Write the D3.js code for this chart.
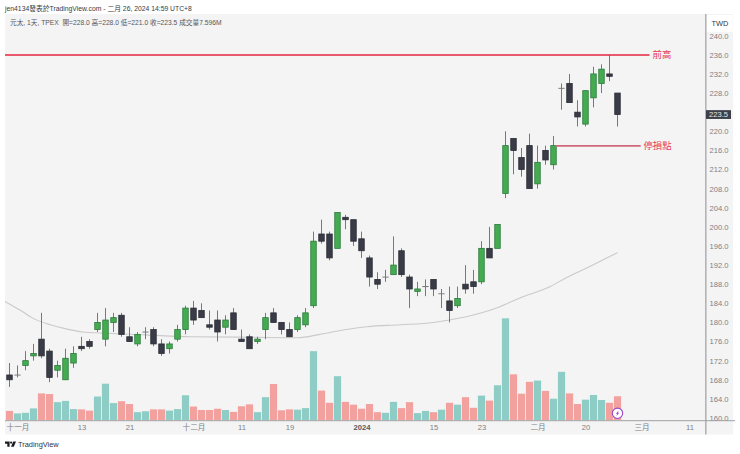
<!DOCTYPE html>
<html>
<head>
<meta charset="utf-8">
<script src="https://cdn.jsdelivr.net/npm/d3@7/dist/d3.min.js"></script>
<style>
html,body{margin:0;padding:0;background:#fff}
svg{display:block}
text{font-family:"Liberation Sans","Noto Sans CJK TC",sans-serif}
</style>
</head>
<body>
<svg id="c" width="740" height="454"></svg>
<script>
const opens =[169,169,171,173,176.5,174,170,168,171.5,175,176,178.5,176.5,180,181.5,177,175.5,178,178.5,175.5,174.5,176.5,178.5,183,182.5,179.5,180.5,179,182,176.5,177,176,178.5,182,180,178.5,178.5,179.5,183.5,198.5,198.5,195.5,202,201.5,197.5,193.5,189,189.5,190,195,189.5,186.5,187.5,189,186,184.5,183.5,188,188.5,188.5,195.5,195.5,207,218.5,214.5,217,209,216,213,229,230,224,221.5,227,230,232,228];
const highs =[171.5,171,174,175.5,182,174.5,172,174.5,175,177,176.5,182,183,182,182,179,178,179,179,176.5,176,179.5,183.5,184.5,184,182.5,182.5,181.5,183,178.5,177.5,177,182,183,180,180,181.5,183,199,201.5,199,203,202.5,201.5,199,194,190.5,191,198,195.5,190,188.5,189,189,187,187.5,187.5,192,191,197,200,200.5,220,218.5,216.5,219.5,217,217,219,230,232,226.5,228.5,233.5,234,236,228];
const lows  =[166.5,168.5,170,172,172.5,167.5,168.5,168,170.5,174,174.5,178,175,178,177,176,175,176.5,175,173,173.5,176,177.5,179.5,181,178.5,176,177.5,178.5,176,174.5,175.5,176.5,180,177.5,177,178,179,183,196.5,193,195.5,199.5,196,193.5,187.5,187,188.5,190,189.5,183,185.5,185.5,185.5,183,180,183,186,186,188,193.5,195.5,206,211,210.5,208,208,213,212,224.5,226,221,221,225,228,230.5,221];
const closes=[168,169,172,173.5,173,168.5,171,172.5,173.5,174.5,175,180,180.5,181,177.5,176,177.5,178,175.5,173.5,175.5,178.5,183,180.5,181,179,178,180.5,178.5,176,174.5,176.5,181,180,178.5,177,181,182,197,197,193.5,203,201.5,197,195,189.5,188,189.5,192,190,187,187,187.5,187,186,182.5,185,187,187.5,195.5,193.5,200.5,217,216,212,208,213.5,214,217,229,226,223,228.5,232,233,231.5,223.5];
const volumes=[2.9,2.1,2.3,3.7,8.5,8.3,5.7,6.1,3.5,3.4,3.0,7.5,11.6,5.4,6.0,5.1,2.5,2.8,3.4,3.4,3.0,3.5,7.9,4.3,3.2,3.2,3.6,3.2,2.6,4.4,5.0,2.5,7.3,11.5,3.1,3.4,3.3,3.8,22.0,9.4,5.5,14.0,5.8,4.9,3.6,5.1,2.5,2.3,5.8,3.8,5.7,2.2,2.9,2.5,3.3,5.5,4.9,7.3,3.9,7.8,6.2,11.1,32.5,14.6,8.4,12.2,12.6,9.3,6.8,15.4,8.5,5.1,6.5,8.0,6.4,5.5,7.596];
const maIndex=[-0.56,1.3,2.9,5.1,7.2,9.2,11.3,17,22.6,30,36,38.8,41.7,44.7,48.8,53,55,58.8,61.3,63.8,67.6,69.65,72.15,74.2,76];
const maValue=[184.4,182.6,180.9,179.5,178.6,178,177.8,177.4,177,176.9,176.8,177.5,178.4,179.1,179.5,180,180.5,181.9,183.3,185.1,187.5,189.4,191.4,193.1,194.6];
const priceTicks=[160,164,168,172,176,180,184,188,192,196,200,204,208,212,216,220,228,232,236,240];
const timeIndex=[1,9,15,23,29,35,44,53,59,66,72,79,85];
const timeLabels=["十一月","13","21","十二月","11","19","2024","15","23","二月","20","三月","11"];
const levelPrices=[236,217];
const levelStarts=[-0.56,68.2];
const levelEnds=[80,78.9];
const levelNames=["前高","停損點"];
const titleText="jen4134發表於TradingView.com - 二月 26, 2024 14:59 UTC+8";
const infoText="元太, 1天, TPEX  開=228.0 高=228.0 低=221.0 收=223.5 成交量7.596M";

const svg=d3.select("#c");
const plot={l:5,r:705,t:14,b:420.5};
const x=d3.scaleLinear().domain([-0.5625,86.9375]).range([plot.l,plot.r]);
const y=d3.scaleLinear().domain([160,240]).range([418,35.7]);
const v=d3.scaleLinear().domain([0,32.5]).range([420,318.3]);

// panes
svg.append("rect").attr("x",plot.l).attr("y",plot.t).attr("width",728).attr("height",420.5).attr("fill","#f4f4f4");
svg.append("rect").attr("x",706).attr("y",15).attr("width",26.5).attr("height",17).attr("fill","#ffffff");
svg.append("rect").attr("x",plot.r).attr("y",plot.t).attr("width",1.6).attr("height",420.5).attr("fill","#b4b4b6");

// volume
const idx=d3.range(closes.length);
svg.append("g").selectAll("rect").data(idx).join("rect")
  .attr("x",i=>x(i)-3.6).attr("width",7.2)
  .attr("y",i=>v(volumes[i])).attr("height",i=>v(0)-v(volumes[i]))
  .attr("fill",i=>closes[i]>=opens[i]?"#8dcdc5":"#f3a19f");

// moving average
svg.append("path").datum(d3.zip(maIndex,maValue))
  .attr("fill","none").attr("stroke","#cacaca").attr("stroke-width",1.1)
  .attr("d",d3.line().x(d=>x(d[0])).y(d=>y(d[1])).curve(d3.curveMonotoneX));

// candles
const cg=svg.append("g");
cg.selectAll("line").data(idx).join("line")
  .attr("x1",i=>x(i)).attr("x2",i=>x(i))
  .attr("y1",i=>y(highs[i])).attr("y2",i=>y(lows[i]))
  .attr("stroke","#77787c").attr("stroke-width",1);
cg.selectAll("rect").data(idx).join("rect")
  .attr("x",i=>x(i)-2.75).attr("width",5.5)
  .attr("y",i=>y(Math.max(opens[i],closes[i])))
  .attr("height",i=>Math.max(0.1,Math.abs(y(opens[i])-y(closes[i]))))
  .attr("fill",i=>closes[i]>=opens[i]?"#45ab50":"#393b46")
  .attr("stroke",i=>opens[i]===closes[i]?"#77787c":(closes[i]>opens[i]?"#2b7a3c":"#2b2d36"))
  .attr("stroke-width",0.8);

// horizontal levels
const colors=["#e5263f","#d0687c"], widths=[1.5,1.6], tx=[662,657.5];
levelPrices.forEach((p,k)=>{
  svg.append("line").attr("x1",x(levelStarts[k])).attr("x2",x(levelEnds[k]))
    .attr("y1",y(p)+0.3).attr("y2",y(p)+0.3).attr("stroke",colors[k]).attr("stroke-width",widths[k]);
  svg.append("text").attr("x",tx[k]).attr("y",y(p)+3.4).attr("text-anchor","middle")
    .attr("font-size",9.4).attr("fill","#e83a55").text(levelNames[k]);
});

// axes
const pa=d3.axisRight(y).tickValues(priceTicks).tickSize(0).tickPadding(0).tickFormat(d3.format(".1f"));
const pg=svg.append("g").attr("transform","translate(719,0)").call(pa);
pg.select(".domain").remove();
pg.selectAll("text").attr("text-anchor","middle").attr("font-size",7.6).attr("fill","#7d7f86")
  .style("font-family",'"Liberation Sans",sans-serif');

svg.append("line").attr("x1",plot.l).attr("x2",735).attr("y1",420.7).attr("y2",420.7).attr("stroke","#a0a1a4").attr("stroke-width",1);

const ta=d3.axisBottom(x).tickValues(timeIndex).tickSize(0).tickPadding(0).tickFormat((d,i)=>timeLabels[i]);
const tg=svg.append("g").attr("transform","translate(0,424.6)").call(ta);
tg.select(".domain").remove();
tg.selectAll("text").attr("font-size",7.6).attr("fill","#7d7f86")
  .attr("font-weight",(d,i)=>timeLabels[i]==="2024"?"700":"400")
  .filter((d,i)=>timeLabels[i]==="2024").attr("fill","#55575e");

// last price tag
const tagY=y(closes[closes.length-1]);
svg.append("rect").attr("x",706).attr("y",tagY-4.4).attr("width",25).attr("height",8.8).attr("fill","#3d3f4a");
svg.append("text").attr("x",718.5).attr("y",tagY+2.8).attr("text-anchor","middle").attr("font-size",7.6).attr("fill","#e8e8ea").text(d3.format(".1f")(closes[closes.length-1]));
svg.append("text").attr("x",720).attr("y",26).attr("text-anchor","middle").attr("font-size",7.4).attr("fill","#33343a").text("TWD");

// header
svg.append("text").attr("x",5).attr("y",11.4).attr("font-size",6.8).attr("fill","#3a3b40").text(titleText);
svg.append("text").attr("x",10).attr("y",25.4).attr("font-size",6.7).attr("fill","#55565c").style("white-space","pre").text(infoText);

// alert icon
const ic=svg.append("g").attr("transform",`translate(${x(76)},413.3)`);
ic.append("circle").attr("r",5.2).attr("fill","#ffffff").attr("stroke","#9a44c4").attr("stroke-width",1.1);
ic.append("path").attr("d","M1.3,-3 L-1.6,0.5 L-0.2,0.5 L-1.2,3 L1.7,-0.6 L0.3,-0.6 Z").attr("fill","#9a44c4");

// logo
const lg=svg.append("g").attr("transform","translate(5,441.5)").attr("fill","#1c1d22");
lg.append("path").attr("d","M0,0 H4.6 V5.2 H2.3 V2.2 H0 Z");
lg.append("circle").attr("cx",6.1).attr("cy",1.1).attr("r",1.1);
lg.append("path").attr("d","M8.2,0 H11 L8.8,5.2 H6 Z");
svg.append("text").attr("x",18).attr("y",447).attr("font-size",7.4).attr("fill","#33343a").text("TradingView");
</script>
</body>
</html>
